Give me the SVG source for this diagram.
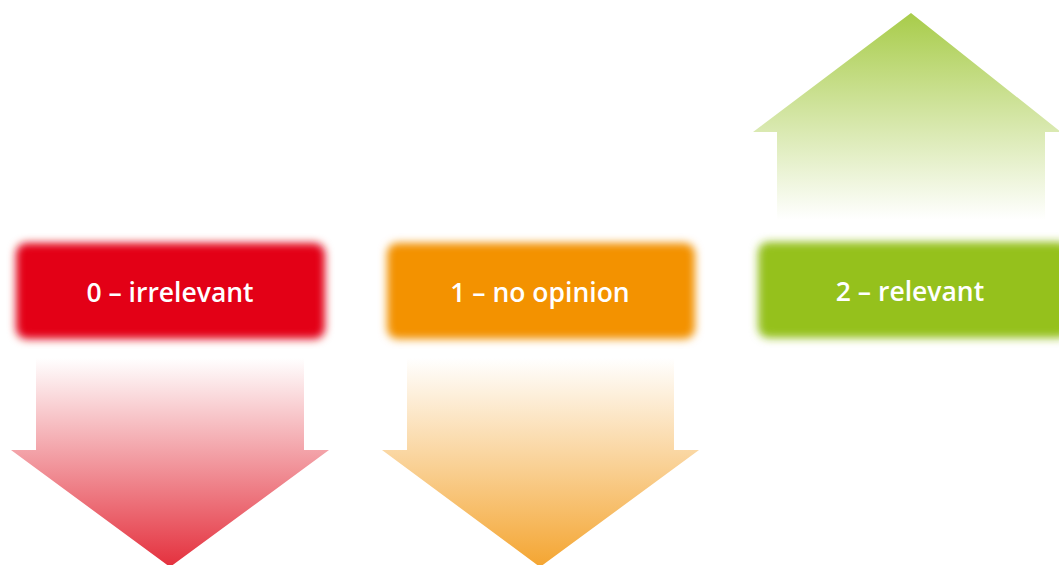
<svg xmlns="http://www.w3.org/2000/svg" width="1059" height="565" viewBox="0 0 1059 565">
  <defs>
    <filter id="soft" x="-10%" y="-25%" width="120%" height="150%">
      <feGaussianBlur stdDeviation="4.2"/>
    </filter>
    <linearGradient id="gRed" gradientUnits="userSpaceOnUse" x1="0" y1="358" x2="0" y2="567">
      <stop offset="0" stop-color="#ffffff"/>
      <stop offset="1" stop-color="#e4303d"/>
    </linearGradient>
    <linearGradient id="gOrange" gradientUnits="userSpaceOnUse" x1="0" y1="358" x2="0" y2="567">
      <stop offset="0" stop-color="#ffffff"/>
      <stop offset="1" stop-color="#f4a531"/>
    </linearGradient>
    <linearGradient id="gGreen" gradientUnits="userSpaceOnUse" x1="0" y1="220" x2="0" y2="13">
      <stop offset="0" stop-color="#ffffff"/>
      <stop offset="1" stop-color="#a8cc4a"/>
    </linearGradient>
  </defs>
  <style>
    .label { font-family: "Open Sans", "Liberation Sans", sans-serif; font-weight: 600; font-size: 26.5px; fill: #ffffff; text-anchor: middle; }
  </style>
  <rect width="1059" height="565" fill="#ffffff"/>

  <g id="connectors">
    <polygon id="arrow-red" points="36,358 304,358 304,450 329,450 170,567 11,450 36,450" fill="url(#gRed)"/>
    <polygon id="arrow-orange" points="407,358 674,358 674,450 699,450 540,567 382,450 407,450" fill="url(#gOrange)"/>
    <polygon id="arrow-green" points="777,220 1045,220 1045,132 1061,132 911,13 753,132 777,132" fill="url(#gGreen)"/>
  </g>

  <g id="node-irrelevant">
    <rect x="16" y="243" width="309" height="96" rx="11" fill="#e30613" filter="url(#soft)"/>
    <text class="label" x="170" y="302">0 – irrelevant</text>
  </g>
  <g id="node-no-opinion">
    <rect x="387" y="243" width="308" height="96" rx="11" fill="#f39200" filter="url(#soft)"/>
    <text class="label" x="540" y="302">1 – no opinion</text>
  </g>
  <g id="node-relevant">
    <rect x="758" y="242" width="312" height="96" rx="11" fill="#95c11f" filter="url(#soft)"/>
    <text class="label" x="910" y="301">2 – relevant</text>
  </g>
</svg>
